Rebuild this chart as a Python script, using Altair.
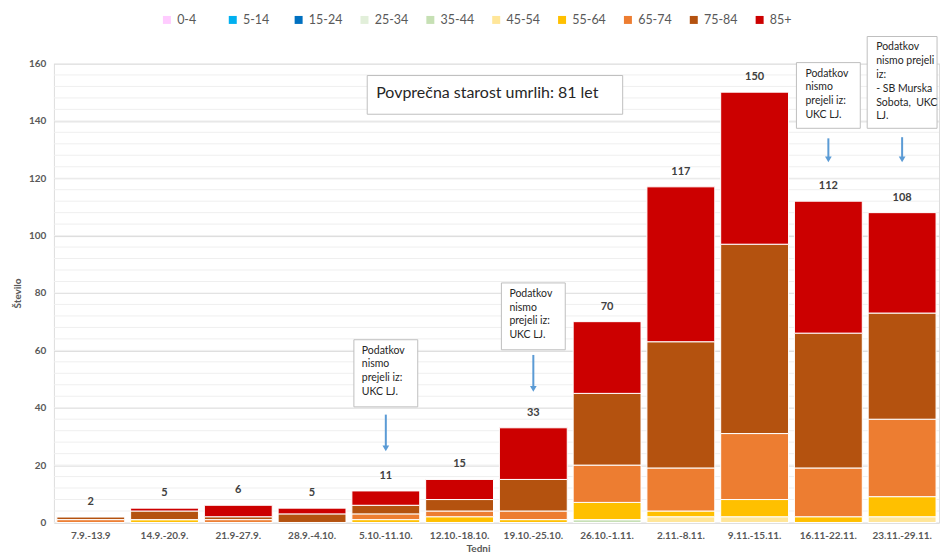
import altair as alt
import pandas as pd

# ---- data ----
weeks = ["7.9.-13.9", "14.9.-20.9.", "21.9-27.9.", "28.9.-4.10.", "5.10.-11.10.",
         "12.10.-18.10.", "19.10.-25.10.", "26.10.-1.11.", "2.11.-8.11.",
         "9.11.-15.11.", "16.11-22.11.", "23.11.-29.11."]
ages = ["0-4", "5-14", "15-24", "25-34", "35-44", "45-54", "55-64", "65-74", "75-84", "85+"]
colors = ["#FFCCFF", "#00B0F0", "#0070C0", "#E2EFDA", "#C6E0B4", "#FFE699",
          "#FFC000", "#ED7D31", "#B4520F", "#CC0000"]

a0_4 = [0, 0, 0, 0, 0, 0, 0, 0, 0, 0, 0, 0]
a5_14 = [0, 0, 0, 0, 0, 0, 0, 0, 0, 0, 0, 0]
a15_24 = [0, 0, 0, 0, 0, 0, 0, 0, 0, 0, 0, 0]
a25_34 = [0, 0, 0, 0, 0, 0, 0, 0, 0, 0, 0, 0]
a35_44 = [0, 0, 0, 0, 0, 0, 0, 1, 0, 0, 0, 0]
a45_54 = [0, 0, 0, 0, 0, 0, 0, 0, 2, 2, 0, 2]
a55_64 = [0, 1, 0, 0, 1, 2, 1, 6, 2, 6, 2, 7]
a65_74 = [1, 0, 1, 0, 2, 2, 3, 13, 15, 23, 17, 27]
a75_84 = [1, 3, 1, 3, 3, 4, 11, 25, 44, 66, 47, 37]
a85 = [0, 1, 4, 2, 5, 7, 18, 25, 54, 53, 46, 35]
series = [a0_4, a5_14, a15_24, a25_34, a35_44, a45_54, a55_64, a65_74, a75_84, a85]

y_major = [0, 20, 40, 60, 80, 100, 120, 140, 160]
y_minor = list(range(0, 161, 4))

# annotation boxes ("Podatkov nismo prejeli iz: ...")
note_weeks = ["5.10.-11.10.", "19.10.-25.10.", "16.11-22.11.", "23.11.-29.11."]
note_top = [63.7, 83.5, 160.3, 169.4]
note_bot = [40.3, 60.2, 137.4, 137.4]
note_width = [64, 64, 64, 70]
note_dx = [-24, -24, -23, -26]
note_text = ["Podatkov\nnismo\nprejeli iz:\nUKC LJ.",
             "Podatkov\nnismo\nprejeli iz:\nUKC LJ.",
             "Podatkov\nnismo\nprejeli iz:\nUKC LJ.",
             "Podatkov\nnismo prejeli\niz:\n- SB Murska\nSobota,\u00a0 UKC\nLJ."]
arrow_top = [37.6, 58.4, 133.9, 134.3]
arrow_head = [25.8, 46.6, 126.6, 126.6]

main_note = "Povprečna starost umrlih: 81 let"

FONT = "Lato"
GRAY = "#595959"

# ---- tables ----
rows = []
for i, (age, vals) in enumerate(zip(ages, series)):
    for w, v in zip(weeks, vals):
        rows.append({"week": w, "age": age, "idx": i, "value": v})
df = pd.DataFrame(rows)
tot = df.groupby("week", sort=False)["value"].sum().reset_index()

notes = pd.DataFrame({"week": note_weeks, "top": note_top, "bot": note_bot,
                      "w": note_width, "text": note_text,
                      "atop": arrow_top, "ahead": arrow_head, "dx": note_dx})

xsc = alt.Scale(domain=weeks, paddingInner=0.08, paddingOuter=0.04)
ysc = alt.Scale(domain=[0, 160], nice=False)

minor = alt.Chart(pd.DataFrame({"g": y_minor})).mark_rule(
    color="#efefef", strokeWidth=1).encode(y=alt.Y("g:Q", scale=ysc))

bars = alt.Chart(df).mark_bar(stroke="white", strokeWidth=1).encode(
    x=alt.X("week:N", scale=xsc, sort=weeks,
            axis=alt.Axis(title="Tedni", labelAngle=0, labelFontWeight="bold",
                          labelFontSize=10, labelColor=GRAY, labelFont=FONT,
                          ticks=False, domainColor="#d9d9d9", labelPadding=8,
                          titleFont=FONT, titleFontSize=10, titleColor=GRAY,
                          titleFontWeight="bold", titleAlign="center",
                          titleX=425, titlePadding=3)),
    y=alt.Y("value:Q", stack="zero", scale=ysc,
            axis=alt.Axis(title="Število", values=y_major, grid=True,
                          gridColor="#d9d9d9", domain=False, ticks=False,
                          labelFontWeight="bold", labelFontSize=10, labelColor=GRAY,
                          labelFont=FONT, labelPadding=8,
                          titleFont=FONT, titleFontSize=10, titleColor=GRAY,
                          titleFontWeight="bold", titlePadding=6)),
    color=alt.Color("age:N", scale=alt.Scale(domain=ages, range=colors), sort=ages,
                    legend=alt.Legend(title=None, orient="none", direction="horizontal",
                                      legendX=107, legendY=-50, symbolType="square",
                                      symbolSize=64, symbolStrokeWidth=0,
                                      labelFont=FONT, labelFontSize=12.5,
                                      labelColor=GRAY, columnPadding=15,
                                      gridAlign="all", labelOffset=4)),
    order=alt.Order("idx:Q", sort="ascending"),
)

totals = alt.Chart(tot).mark_text(dy=-15, fontWeight="bold", fontSize=11,
                                  color="#404040", font=FONT).encode(
    x=alt.X("week:N", scale=xsc, sort=weeks), y=alt.Y("value:Q", scale=ysc),
    text="value:Q")

boxes = alt.Chart(notes).mark_bar(fill="white", stroke="#bfbfbf", strokeWidth=1).encode(
    x=alt.X("week:N", scale=xsc, sort=weeks), y=alt.Y("top:Q", scale=ysc), y2="bot:Q",
    size=alt.Size("w:Q", scale=None))

box_text = alt.layer(*[
    alt.Chart(notes.iloc[[k]]).mark_text(align="left", baseline="top", lineBreak="\n",
                                         fontSize=10.5, lineHeight=13.8, font=FONT,
                                         color="#262626", dx=int(note_dx[k]), dy=6).encode(
        x=alt.X("week:N", scale=xsc, sort=weeks), y=alt.Y("top:Q", scale=ysc), text="text:N")
    for k in range(len(note_weeks))
])

arrows = alt.Chart(notes).mark_rule(color="#5B9BD5", strokeWidth=2).encode(
    x=alt.X("week:N", scale=xsc, sort=weeks), y=alt.Y("atop:Q", scale=ysc), y2="ahead:Q")
heads = alt.Chart(notes).mark_point(shape="triangle-down", filled=True, size=45,
                                    color="#5B9BD5", opacity=1).encode(
    x=alt.X("week:N", scale=xsc, sort=weeks), y=alt.Y("ahead:Q", scale=ysc))

main_df = pd.DataFrame({"text": [main_note], "top": [155.8], "bot": [142.3], "mid": [149.7]})
main_box = alt.Chart(main_df).mark_rect(fill="white", stroke="#bfbfbf", strokeWidth=1).encode(
    x=alt.value(314), x2=alt.value(570), y=alt.Y("top:Q", scale=ysc), y2="bot:Q")
main_txt = alt.Chart(main_df).mark_text(align="left", baseline="middle", fontSize=16,
                                        font=FONT, color="#262626").encode(
    x=alt.value(323), y=alt.Y("mid:Q", scale=ysc), text="text:N")

chart = alt.layer(minor, bars, totals, boxes, box_text, arrows, heads, main_box, main_txt).properties(
    width=887, height=460,
    padding={"left": 4, "right": 0, "top": 5, "bottom": 2}
).configure_view(stroke=None).configure(font=FONT)

chart.save("out.html", embed_options={"renderer": "svg", "actions": False})
